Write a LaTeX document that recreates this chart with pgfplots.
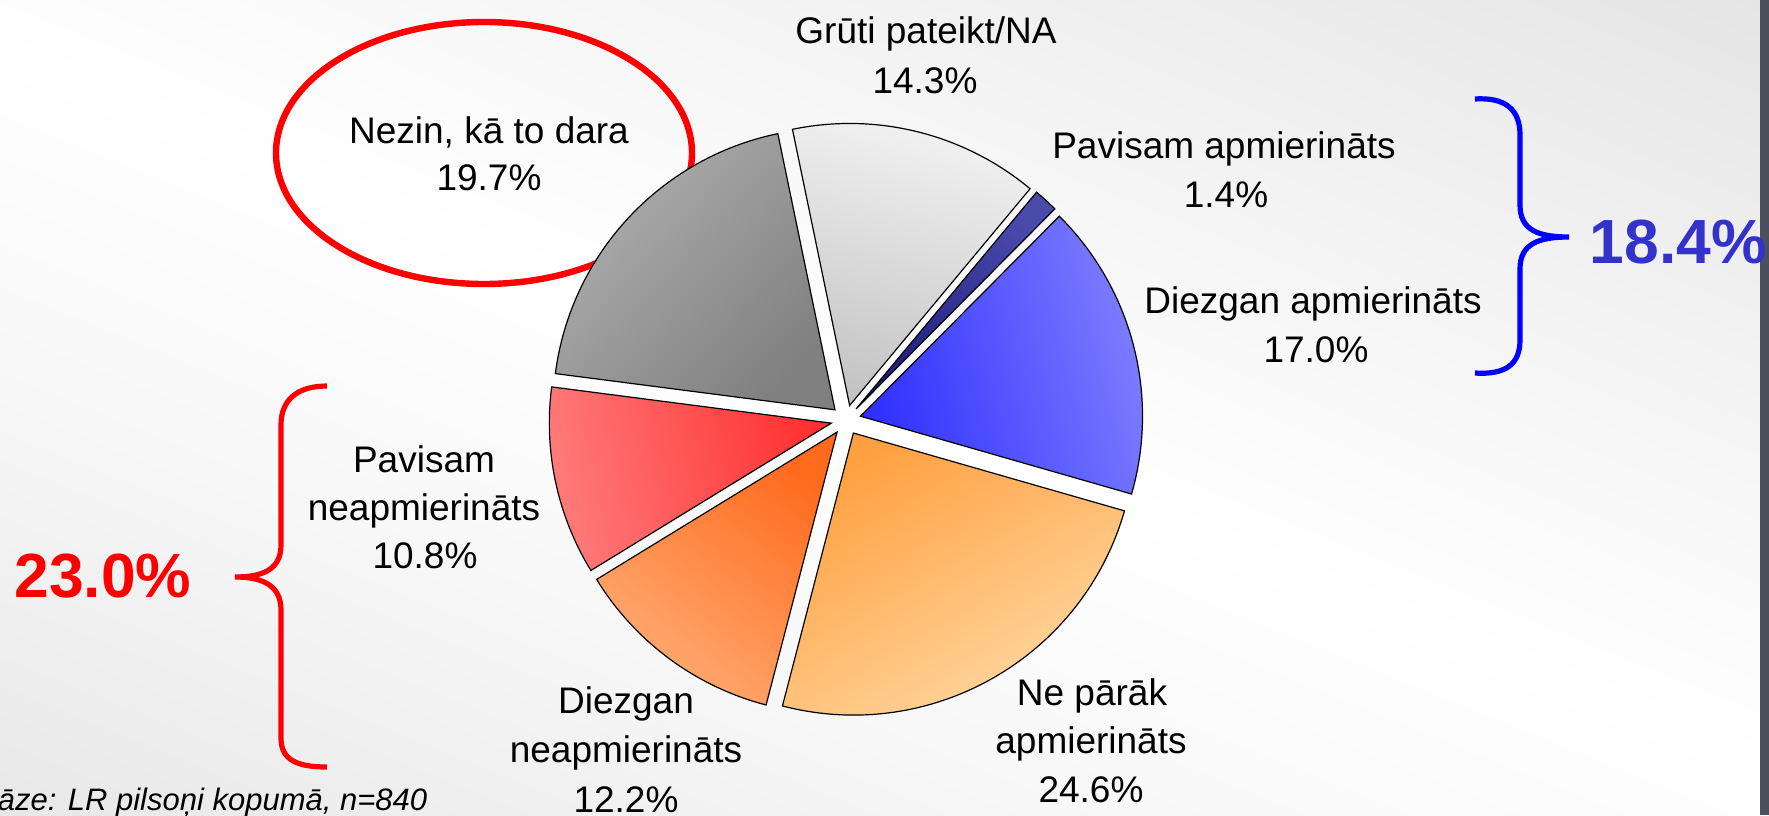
\documentclass[border=0pt]{standalone}
\usepackage{pgfplots}
\pgfplotsset{compat=1.18}
\usepackage{fontspec}
\setmainfont{Liberation Sans}

\definecolor{gA}{HTML}{F3F3F3}\definecolor{gB}{HTML}{C4C4C4}
\definecolor{dbA}{HTML}{4A4AAA}\definecolor{dbB}{HTML}{1E1E80}
\definecolor{bA}{HTML}{8282FF}\definecolor{bB}{HTML}{3030FF}
\definecolor{oA}{HTML}{FFDCA8}\definecolor{oB}{HTML}{FFA040}
\definecolor{ooA}{HTML}{FFAC74}\definecolor{ooB}{HTML}{FF6A1C}
\definecolor{rA}{HTML}{FF7B7B}\definecolor{rB}{HTML}{FF3030}
\definecolor{kA}{HTML}{AEAEAE}\definecolor{kB}{HTML}{808080}
\definecolor{band}{HTML}{4C4F5E}
\definecolor{bigBlue}{HTML}{3333CC}
\definecolor{bgTR}{HTML}{E2E2E2}
\definecolor{bgBL}{HTML}{E5E5E5}
\pgfdeclareverticalshading{slidebg}{100bp}{color(0bp)=(bgBL); color(14bp)=(bgBL);
  color(36bp)=(white!97!black); color(50bp)=(white); color(64bp)=(white!96!black);
  color(86bp)=(bgTR); color(100bp)=(bgTR)}

\pgfdeclareplotmark{nothing}{}

% one wedge of the pie, drawn at the data point (pie centre), exploded outwards
\newcommand\pieWedge[2]{%
  \pgfkeys{/pgf/fpu=false}%
  \pgfmathsetmacro\aA{101.7-3.6*\cum}%
  \pgfmathsetmacro\aB{101.7-3.6*(\cum+\pct)}%
  \pgfmathsetmacro\aM{(\aA+\aB)/2}%
  \pgfmathsetmacro\sh{\aM-90}%
  \pgfmathsetmacro\dx{3.75*cos(\aM)}%
  \pgfmathsetmacro\dy{3.75*sin(\aM)}%
  \shadedraw[draw=black, line width=0.3pt, top color=#2, bottom color=#1,
     shading angle=\sh]
     (\dx pt,\dy pt) -- ++(\aA:70.5pt) arc[start angle=\aA, end angle=\aB, radius=70.5pt] -- cycle;%
}
\pgfplotsset{pieslice/.style n args={2}{only marks, mark=nothing, scatter,
   visualization depends on=value \thisrow{cum}\as\cum,
   visualization depends on=value \thisrow{pct}\as\pct,
   scatter/@pre marker code/.code={\pieWedge{#1}{#2}},
   scatter/@post marker code/.code={}}}

\newcommand\lbl{\fontsize{9.25}{11}\selectfont}
\newcommand\bigpct{\fontsize{15.6}{18}\selectfont\bfseries}

\begin{document}
\begin{tikzpicture}
% slide background
\shade[shading=slidebg, shading angle=-22]
  (0,0) rectangle (442.25pt,203.75pt);
\fill[band] (440pt,0) rectangle (442.25pt,203.75pt);

\begin{axis}[at={(0,0)}, anchor=south west, scale only axis,
  width=442.25pt, height=203.75pt,
  xmin=0, xmax=1769, ymin=0, ymax=815, y dir=reverse,
  hide axis, clip=false]

% pie slices: centre x, centre y, cumulative share before slice, share (%)
\addplot[pieslice={gB}{gA}]   table[row sep=\\]{x y cum pct\\ 846 420 0.0 14.3\\};   % Gruti pateikt/NA
\addplot[pieslice={dbB}{dbA}] table[row sep=\\]{x y cum pct\\ 846 420 14.3 1.4\\};   % Pavisam apmierinats
\addplot[pieslice={bB}{bA}]   table[row sep=\\]{x y cum pct\\ 846 420 15.7 17.0\\};  % Diezgan apmierinats
\addplot[pieslice={oB}{oA}]   table[row sep=\\]{x y cum pct\\ 846 420 32.7 24.6\\};  % Ne parak apmierinats
\addplot[pieslice={ooB}{ooA}] table[row sep=\\]{x y cum pct\\ 846 420 57.3 12.2\\};  % Diezgan neapmierinats
\addplot[pieslice={rB}{rA}]   table[row sep=\\]{x y cum pct\\ 846 420 69.5 10.8\\};  % Pavisam neapmierinats
\addplot[pieslice={kB}{kA}]   table[row sep=\\]{x y cum pct\\ 846 420 80.3 19.7\\};  % Nezin, ka to dara

% red ellipse
\draw[red, line width=1.6pt] (axis cs:484,153) ellipse [x radius=52pt, y radius=32.75pt];

% braces
\draw[blue, line width=1.3pt] (axis cs:1475,99) .. controls (axis cs:1506,97) and (axis cs:1520,110) .. (axis cs:1520,135)
  -- (axis cs:1520,205) .. controls (axis cs:1520,230) and (axis cs:1538,237) .. (axis cs:1569,237)
  .. controls (axis cs:1538,237) and (axis cs:1520,244) .. (axis cs:1520,269)
  -- (axis cs:1520,340) .. controls (axis cs:1520,364) and (axis cs:1506,375) .. (axis cs:1475,373);
\draw[red, line width=1.3pt] (axis cs:327,386) .. controls (axis cs:297,386) and (axis cs:281,400) .. (axis cs:281,425)
  -- (axis cs:281,545) .. controls (axis cs:281,570) and (axis cs:262,577) .. (axis cs:235,577)
  .. controls (axis cs:262,577) and (axis cs:281,585) .. (axis cs:281,610)
  -- (axis cs:281,738) .. controls (axis cs:281,760) and (axis cs:297,767) .. (axis cs:327,767);

% labels
\begin{scope}[every node/.style={anchor=base, inner sep=0pt, font=\lbl}]
\node at (axis cs:926,43) {Grūti pateikt/NA};
\node at (axis cs:925,93) {14.3\%};
\node at (axis cs:489,143) {Nezin, kā to dara};
\node at (axis cs:489,190) {19.7\%};
\node at (axis cs:1224,158) {Pavisam apmierināts};
\node at (axis cs:1226,207) {1.4\%};
\node at (axis cs:1313,313) {Diezgan apmierināts};
\node at (axis cs:1316,362) {17.0\%};
\node at (axis cs:424,472) {Pavisam};
\node at (axis cs:424,520) {neapmierināts};
\node at (axis cs:425,568) {10.8\%};
\node at (axis cs:626,713) {Diezgan};
\node at (axis cs:626,762) {neapmierināts};
\node at (axis cs:626,812) {12.2\%};
\node at (axis cs:1092,705) {Ne pārāk};
\node at (axis cs:1091,753) {apmierināts};
\node at (axis cs:1091,802) {24.6\%};
\end{scope}
\node[anchor=base, inner sep=0pt, font=\bigpct, text=red] at (axis cs:103,597) {23.0\%};
\node[anchor=base west, inner sep=0pt, font=\bigpct, text=bigBlue] at (axis cs:1589,263) {18.4\%};
\node[anchor=base east, inner sep=0pt, font=\fontsize{7.75}{9}\selectfont\itshape] at (axis cs:428,810) {Bāze: LR pilsoņi kopumā, n=840};
\end{axis}
\pgfresetboundingbox
\path[use as bounding box] (0,0) rectangle (442.25pt,203.75pt);
\end{tikzpicture}
\end{document}
